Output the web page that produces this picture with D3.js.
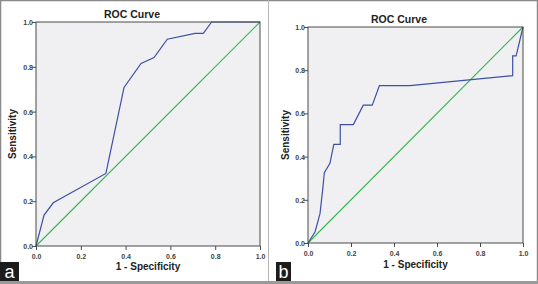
<!DOCTYPE html>
<html>
<head>
<meta charset="utf-8">
<script src="https://cdn.jsdelivr.net/npm/d3@7"></script>
<style>
  html, body { margin: 0; padding: 0; background: #fff; }
  svg { display: block; font-family: "Liberation Sans", Arial, sans-serif; }
</style>
</head>
<body>
<svg id="chart" width="538" height="284"></svg>
<script>
// panel a : ROC points (1 - specificity, sensitivity)
var fpr_a = [0, 0.036, 0.077, 0.312, 0.393, 0.469, 0.527, 0.586, 0.71, 0.747, 0.784, 1];
var tpr_a = [0, 0.138, 0.193, 0.324, 0.708, 0.815, 0.841, 0.923, 0.949, 0.949, 1, 1];

// panel b
var fpr_b = [0, 0.033, 0.056, 0.068, 0.076, 0.102, 0.12, 0.15, 0.15, 0.211, 0.257, 0.299, 0.332, 0.474, 0.952, 0.952, 0.968, 1];
var tpr_b = [0, 0.052, 0.137, 0.245, 0.326, 0.369, 0.457, 0.457, 0.548, 0.548, 0.638, 0.638, 0.729, 0.729, 0.775, 0.866, 0.866, 1];

var tick_values = [0, 0.2, 0.4, 0.6, 0.8, 1.0];
var title_text = "ROC Curve";
var x_label = "1 - Specificity";
var y_label = "Sensitivity";
var panel_letters = ["a", "b"];

var svg = d3.select("#chart");

// outer frame
svg.append("rect").attr("x", 0.5).attr("y", 0.5).attr("width", 537).attr("height", 283)
  .attr("fill", "none").attr("stroke", "#8a8a8a").attr("stroke-width", 1.5);
svg.append("rect").attr("x", 0).attr("y", 281).attr("width", 538).attr("height", 3).attr("fill", "#9a9a9a");
svg.append("line").attr("x1", 268.5).attr("x2", 268.5).attr("y1", 0).attr("y2", 281)
  .attr("stroke", "#b5b5b5").attr("stroke-width", 1);

var panels = [
  {fpr: fpr_a, tpr: tpr_a, left: 36, right: 260, top: 22, bottom: 246,
   titleX: 132, titleY: 18, xlabY: 270, ylabX: 16, letterX: 0},
  {fpr: fpr_b, tpr: tpr_b, left: 308, right: 523, top: 27, bottom: 243,
   titleX: 399, titleY: 23, xlabY: 268, ylabX: 289, letterX: 276}
];

panels.forEach(function (p, k) {
  var x = d3.scaleLinear().domain([0, 1]).range([p.left, p.right]);
  var y = d3.scaleLinear().domain([0, 1]).range([p.bottom, p.top]);
  var g = svg.append("g");

  g.append("rect")
    .attr("x", p.left).attr("y", p.top)
    .attr("width", p.right - p.left).attr("height", p.bottom - p.top)
    .attr("fill", "#f0f0f2");

  var line = d3.line().x(function (d) { return x(d[0]); }).y(function (d) { return y(d[1]); });

  // reference diagonal
  g.append("path")
    .datum([[0, 0], [1, 1]])
    .attr("d", line)
    .attr("fill", "none").attr("stroke", "#2fb84a").attr("stroke-width", 1.1);

  g.append("path")
    .datum(p.fpr.map(function (v, i) { return [v, p.tpr[i]]; }))
    .attr("d", line)
    .attr("fill", "none").attr("stroke", "#3d4fa6").attr("stroke-width", 1.2);

  g.append("rect")
    .attr("x", p.left).attr("y", p.top)
    .attr("width", p.right - p.left).attr("height", p.bottom - p.top)
    .attr("fill", "none").attr("stroke", "#4a4a4a").attr("stroke-width", 1);

  var xAxis = g.append("g")
    .attr("transform", "translate(0," + p.bottom + ")")
    .call(d3.axisBottom(x).tickValues(tick_values).tickFormat(d3.format(".1f")).tickSize(4).tickSizeOuter(0));
  var yAxis = g.append("g")
    .attr("transform", "translate(" + p.left + ",0)")
    .call(d3.axisLeft(y).tickValues(tick_values).tickFormat(d3.format(".1f")).tickSize(4).tickSizeOuter(0));
  [xAxis, yAxis].forEach(function (ax) {
    ax.select(".domain").remove();
    ax.selectAll("line").attr("stroke", "#4a4a4a");
    ax.selectAll("text").attr("fill", "#444").attr("font-size", 7).attr("font-weight", "bold");
  });
  xAxis.selectAll("text").attr("dy", "0.9em");
  yAxis.selectAll("text").attr("x", -3).attr("dy", "0.35em");

  g.append("text")
    .attr("x", p.titleX).attr("y", p.titleY)
    .attr("text-anchor", "middle")
    .attr("font-size", 10.5).attr("font-weight", "bold").attr("fill", "#222")
    .text(title_text);

  g.append("text")
    .attr("x", (p.left + p.right) / 2).attr("y", p.xlabY)
    .attr("text-anchor", "middle")
    .attr("font-size", 10).attr("font-weight", "bold").attr("fill", "#222")
    .text(x_label);

  g.append("text")
    .attr("transform", "translate(" + p.ylabX + "," + ((p.top + p.bottom) / 2) + ") rotate(-90)")
    .attr("text-anchor", "middle")
    .attr("font-size", 10).attr("font-weight", "bold").attr("fill", "#222")
    .text(y_label);

  // panel letter box
  g.append("rect")
    .attr("x", p.letterX).attr("y", 262).attr("width", k === 0 ? 19 : 15).attr("height", 19)
    .attr("fill", "#1c1c1c");
  g.append("text")
    .attr("x", p.letterX + (k === 0 ? 9.5 : 7.5)).attr("y", 278)
    .attr("text-anchor", "middle")
    .attr("font-size", 18).attr("fill", "#fff")
    .text(panel_letters[k]);
});
</script>
</body>
</html>
